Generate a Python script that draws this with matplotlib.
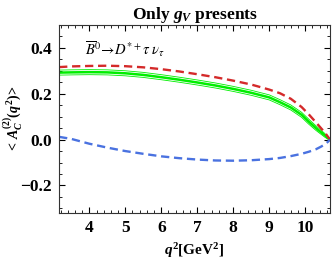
import matplotlib
matplotlib.use('Agg')
import matplotlib.pyplot as plt
import numpy as np
from matplotlib.ticker import MultipleLocator

plt.rcParams['font.family'] = ['Liberation Serif', 'DejaVu Serif']
plt.rcParams['mathtext.fontset'] = 'custom'
plt.rcParams['mathtext.rm'] = 'Liberation Serif:bold'
plt.rcParams['mathtext.it'] = 'Liberation Serif:bold:italic'
plt.rcParams['mathtext.bf'] = 'Liberation Serif:bold'

# values
q2 = np.array([3.16, 3.5, 4.0, 4.5, 5.0, 5.5, 6.0, 6.5, 7.0, 7.5, 8.0, 8.5,
               9.0, 9.3, 9.6, 9.9, 10.1, 10.3, 10.45, 10.55, 10.63, 10.69])
red = np.array([0.316, 0.319, 0.321, 0.322, 0.320, 0.315, 0.307, 0.297, 0.285, 0.272, 0.257, 0.240,
                0.218, 0.202, 0.178, 0.142, 0.110, 0.075, 0.048, 0.030, 0.013, 0.0])
green = np.array([0.292, 0.293, 0.294, 0.293, 0.289, 0.282, 0.272, 0.261, 0.249, 0.236, 0.221, 0.204,
                  0.184, 0.163, 0.140, 0.108, 0.078, 0.050, 0.031, 0.018, 0.007, 0.0])
green_hi = np.array([0.303, 0.304, 0.305, 0.304, 0.300, 0.293, 0.283, 0.272, 0.260, 0.247, 0.232, 0.215,
                     0.195, 0.174, 0.151, 0.119, 0.089, 0.060, 0.040, 0.026, 0.012, 0.0])
green_lo = np.array([0.281, 0.282, 0.283, 0.282, 0.278, 0.271, 0.261, 0.250, 0.238, 0.225, 0.210, 0.193,
                     0.173, 0.152, 0.129, 0.097, 0.067, 0.040, 0.022, 0.010, 0.002, 0.0])
blue = np.array([0.012, 0.003, -0.018, -0.035, -0.050, -0.062, -0.073, -0.081, -0.087, -0.091, -0.092, -0.090,
                 -0.085, -0.080, -0.072, -0.062, -0.053, -0.042, -0.030, -0.020, -0.010, 0.0])

fig = plt.figure(figsize=(3.32, 2.62), dpi=100)
ax = fig.add_axes([0.178, 0.187, 0.816, 0.718])

ax.plot(q2, green_hi, color='#00ee00', lw=0.6)
ax.plot(q2, green_lo, color='#00ee00', lw=0.6)
ax.plot(q2, green, color='#00ee00', lw=1.8)
ax.plot(q2, red, color='#d42a2a', lw=1.7, dashes=(3.5, 2))
ax.plot(q2, blue, color='#4a72e0', lw=1.7, dashes=(3.5, 2))

ax.set_xlim(3.16, 10.69)
ax.set_ylim(-0.32, 0.5)
ax.xaxis.set_major_locator(MultipleLocator(1))
ax.xaxis.set_minor_locator(MultipleLocator(0.2))
ax.yaxis.set_major_locator(MultipleLocator(0.2))
ax.yaxis.set_minor_locator(MultipleLocator(0.05))
ax.tick_params(which='both', direction='in', top=True, right=True)
ax.tick_params(which='major', length=4, width=0.8, labelsize=12.5, pad=5)
ax.tick_params(which='minor', length=2, width=0.6)
ax.set_yticks([-0.2, 0.0, 0.2, 0.4])
ax.set_yticklabels(['\u22120.2', '0.0', '0.2', '0.4'])
for lab in ax.get_xticklabels() + ax.get_yticklabels():
    lab.set_fontweight('bold')
for s in ax.spines.values():
    s.set_color('#333333')

ax.set_title(r'Only $g_V$ presents', fontsize=12.5, fontweight='bold', pad=3)
ax.set_xlabel(r'$q^2$[GeV$^2$]', fontsize=11, fontweight='bold')
ax.xaxis.set_label_coords(0.5, -0.15)
ax.set_ylabel(r'$<\,A_C^{(2)}(q^2)\!>$', fontsize=10, fontweight='bold')
ax.yaxis.set_label_coords(-0.13, 0.5)
ax.text(0.095, 0.84, r'$\overline{B}^0\!\rightarrow\! D^{*+}\tau\ \nu_\tau$', transform=ax.transAxes,
        fontsize=10.5, math_fontfamily='stix')

fig.savefig('out.png', dpi=100)
